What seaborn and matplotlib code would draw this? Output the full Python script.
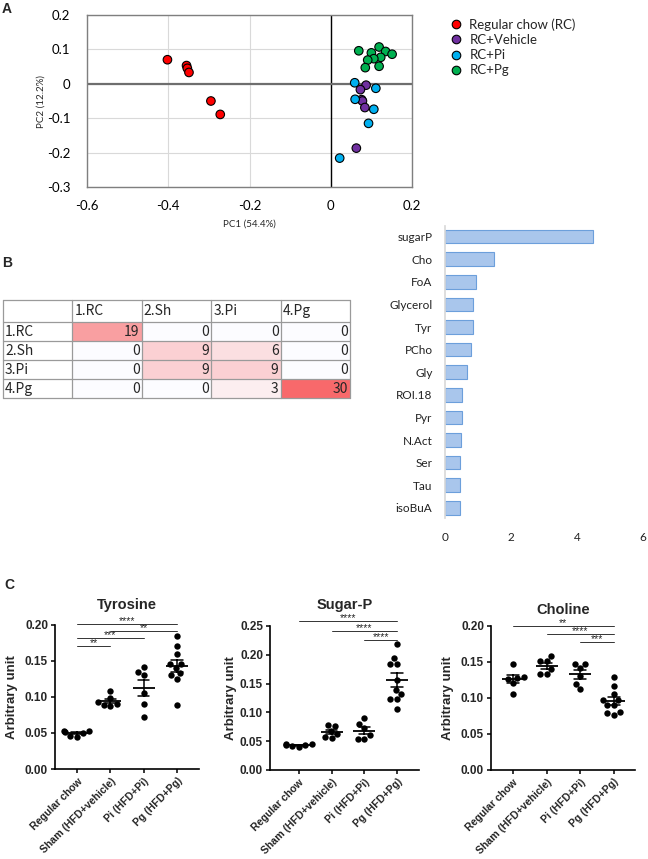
import numpy as np
import pandas as pd
import matplotlib
matplotlib.use('Agg')
import matplotlib.pyplot as plt
import seaborn as sns
from matplotlib.colors import LinearSegmentedColormap

sns.set_theme(style='white')
plt.rcParams['font.family'] = ['Lato', 'DejaVu Sans']

# ---------------- Panel A data (PCA scores) ----------------
pca_groups = ['Regular chow (RC)', 'RC+Vehicle', 'RC+Pi', 'RC+Pg']
pca_colors = ['#FF0000', '#7030A0', '#00B0F0', '#00B050']
rc_pc1 = [-0.402, -0.355, -0.353, -0.349, -0.295, -0.272]
rc_pc2 = [0.070, 0.053, 0.045, 0.033, -0.050, -0.089]
veh_pc1 = [0.087, 0.073, 0.076, 0.078, 0.084, 0.063]
veh_pc2 = [-0.004, -0.017, -0.046, -0.050, -0.069, -0.187]
pi_pc1 = [0.059, 0.111, 0.060, 0.106, 0.093, 0.022]
pi_pc2 = [0.003, -0.013, -0.045, -0.074, -0.115, -0.216]
pg_pc1 = [0.069, 0.100, 0.119, 0.135, 0.151, 0.123, 0.106, 0.091, 0.085, 0.119]
pg_pc2 = [0.096, 0.090, 0.107, 0.094, 0.086, 0.077, 0.073, 0.069, 0.047, 0.051]

# ---------------- Panel B data ----------------
table_labels = ['1.RC', '2.Sh', '3.Pi', '4.Pg']
confusion = [[19, 0, 0, 0],
             [0, 9, 6, 0],
             [0, 9, 9, 0],
             [0, 0, 3, 30]]
metabolites = ['sugarP', 'Cho', 'FoA', 'Glycerol', 'Tyr', 'PCho', 'Gly',
               'ROI.18', 'Pyr', 'N.Act', 'Ser', 'Tau', 'isoBuA']
importance = [4.47, 1.49, 0.94, 0.86, 0.85, 0.80, 0.68, 0.52, 0.52, 0.48, 0.46, 0.45, 0.45]

# ---------------- Panel C data ----------------
groups_c = ['Regular chow', 'Sham (HFD+vehicle)', 'Pi (HFD+Pi)', 'Pg (HFD+Pg)']
tyr_rc = [0.045, 0.052, 0.050, 0.053, 0.046, 0.051]
tyr_sham = [0.108, 0.098, 0.093, 0.089, 0.088, 0.090]
tyr_pi = [0.141, 0.135, 0.130, 0.105, 0.090, 0.072]
tyr_pg = [0.184, 0.171, 0.159, 0.145, 0.145, 0.140, 0.133, 0.130, 0.125, 0.089]
sug_rc = [0.041, 0.046, 0.044, 0.045, 0.040, 0.043]
sug_sham = [0.078, 0.077, 0.068, 0.055, 0.057, 0.062]
sug_pi = [0.091, 0.079, 0.073, 0.054, 0.054, 0.060]
sug_pg = [0.219, 0.194, 0.184, 0.184, 0.157, 0.139, 0.132, 0.123, 0.124, 0.106]
cho_rc = [0.147, 0.128, 0.129, 0.127, 0.121, 0.105]
cho_sham = [0.158, 0.151, 0.151, 0.140, 0.134, 0.134]
cho_pi = [0.141, 0.147, 0.147, 0.131, 0.112, 0.119]
cho_pg = [0.129, 0.117, 0.105, 0.097, 0.097, 0.090, 0.090, 0.080, 0.079, 0.076]
tyr_sig = [(0, 1, 0.171, '**'), (0, 2, 0.181, '***'), (1, 3, 0.191, '**'), (0, 3, 0.201, '****')]
sug_sig = [(0, 3, 0.259, '****'), (1, 3, 0.242, '****'), (2, 3, 0.225, '****')]
cho_sig = [(0, 3, 0.1995, '**'), (1, 3, 0.189, '****'), (2, 3, 0.178, '***')]

W, H = 648, 859
fig = plt.figure(figsize=(W / 100, H / 100), dpi=100)


def rect(l, t, r, b):
    return [l / W, 1 - b / H, (r - l) / W, (b - t) / H]


ARIAL = ['Liberation Sans', 'DejaVu Sans']

# ================= Panel A =================
axA = fig.add_axes(rect(87, 15, 412, 187))
df_pca = pd.DataFrame({
    'PC1': rc_pc1 + veh_pc1 + pi_pc1 + pg_pc1,
    'PC2': rc_pc2 + veh_pc2 + pi_pc2 + pg_pc2,
    'Group': [pca_groups[0]] * len(rc_pc1) + [pca_groups[1]] * len(veh_pc1)
             + [pca_groups[2]] * len(pi_pc1) + [pca_groups[3]] * len(pg_pc1),
})
sns.scatterplot(data=df_pca, x='PC1', y='PC2', hue='Group', hue_order=pca_groups,
                palette=pca_colors, s=38, edgecolor='black', linewidth=0.8,
                ax=axA, zorder=4)
axA.set_xlim(-0.6, 0.2)
axA.set_ylim(-0.3, 0.2)
axA.set_xticks([-0.6, -0.4, -0.2, 0, 0.2])
axA.set_xticklabels(['-0.6', '-0.4', '-0.2', '0', '0.2'])
axA.set_yticks([-0.3, -0.2, -0.1, 0, 0.1, 0.2])
axA.set_yticklabels(['-0.3', '-0.2', '-0.1', '0', '0.1', '0.2'])
axA.grid(True, color='#D9D9D9', lw=0.8)
axA.set_axisbelow(True)
axA.axvline(0, color='black', lw=1.0, zorder=2)
axA.axhline(0, color='#6E6E6E', lw=1.6, zorder=2)
for s in axA.spines.values():
    s.set_color('#7F7F7F')
    s.set_linewidth(1.0)
axA.tick_params(length=0, labelsize=9.5, colors='black')
axA.tick_params(axis='x', pad=9)
axA.tick_params(axis='y', pad=12)
axA.set_xlabel('PC1 (54.4%)', fontsize=7, labelpad=6)
axA.set_ylabel('PC2 (12.2%)', fontsize=7, labelpad=1)
handles, labels = axA.get_legend_handles_labels()
axA.legend(handles, labels, loc='upper left', bbox_to_anchor=(447 / W, 1 - 18 / H),
           bbox_transform=fig.transFigure, frameon=False, fontsize=9.5,
           handletextpad=0.3, labelspacing=0.25, borderpad=0, borderaxespad=0,
           handlelength=1.4)

# ================= Panel B table =================
axT = fig.add_axes(rect(3, 300, 350, 398))
mat = pd.DataFrame(confusion, index=table_labels, columns=table_labels)
cmap = LinearSegmentedColormap.from_list('xl', ['#FCFCFF', '#F8696B'])
sns.heatmap(mat, ax=axT, cmap=cmap, vmin=0, vmax=30, cbar=False,
            xticklabels=False, yticklabels=False, linewidths=0)
hh = 23 / 19.5
axT.set_xlim(-1, 4)
axT.set_ylim(4, -hh)
TF = ['Noto Sans CJK JP', 'DejaVu Sans']
for j, lab in enumerate(table_labels):
    axT.text(j + 0.03, -hh / 2, lab, ha='left', va='center', fontsize=10, family=TF)
for i, lab in enumerate(table_labels):
    axT.text(-1 + 0.03, i + 0.5, lab, ha='left', va='center', fontsize=10, family=TF)
    for j in range(4):
        axT.text(j + 0.97, i + 0.5, str(mat.iloc[i, j]), ha='right', va='center',
                 fontsize=10, family=TF)
for x in [-1, 0, 1, 2, 3, 4]:
    axT.plot([x, x], [-hh, 4], color='#9A9A9A', lw=0.9, clip_on=False)
for y in [-hh, 0, 1, 2, 3, 4]:
    axT.plot([-1, 4], [y, y], color='#9A9A9A', lw=0.9, clip_on=False)
axT.set_xticks([])
axT.set_yticks([])
axT.set_xlabel('')
axT.set_ylabel('')

# ================= Panel B bars =================
axB = fig.add_axes(rect(445, 226.5, 643, 518))
sns.barplot(x=importance, y=metabolites, orient='h', color='#A9C6EC',
            edgecolor='#6C9FDB', linewidth=0.8, width=0.6, saturation=1, ax=axB)
axB.set_xlim(0, 6)
axB.set_ylim(12.45, -0.45)
axB.set_xticks([0, 2, 4, 6])
for k in ['top', 'right', 'bottom']:
    axB.spines[k].set_visible(False)
axB.spines['left'].set_color('#D9D9D9')
axB.tick_params(length=0, labelsize=8.5, colors='#222222')
axB.tick_params(axis='x', pad=10)
axB.tick_params(axis='y', pad=9)

# ================= Panel C =================


def dot_panel(rect_px, data_lists, title, ymax, sigs, xlim, ylab_x, title_pad):
    ax = fig.add_axes(rect(*rect_px))
    vals, grp = [], []
    for g, v in zip(groups_c, data_lists):
        vals += v
        grp += [g] * len(v)
    df = pd.DataFrame({'group': grp, 'value': vals})
    sns.swarmplot(data=df, x='group', y='value', order=groups_c, color='black',
                  size=4.6, ax=ax, zorder=3)
    sns.pointplot(data=df, x='group', y='value', order=groups_c, errorbar='se',
                  color='black', linestyle='none', marker='_', markersize=16,
                  markeredgewidth=1.3, capsize=0.34, err_kws={'linewidth': 1.1},
                  ax=ax, zorder=4)
    ax.set_xlim(*xlim)
    ax.set_ylim(0, ymax)
    ax.set_yticks(np.arange(0, ymax + 1e-9, 0.05))
    ax.set_yticklabels([f'{t:.2f}' for t in np.arange(0, ymax + 1e-9, 0.05)])
    ax.set_xticks(range(4))
    ax.set_xticklabels(groups_c, rotation=45, ha='right', rotation_mode='anchor')
    for lab in ax.get_yticklabels():
        lab.set_fontweight('bold')
        lab.set_family(ARIAL)
        lab.set_fontsize(8.5)
    for lab in ax.get_xticklabels():
        lab.set_fontweight('bold')
        lab.set_family(ARIAL)
        lab.set_fontsize(7.6)
    for k in ['top', 'right']:
        ax.spines[k].set_visible(False)
    for k in ['left', 'bottom']:
        ax.spines[k].set_color('black')
        ax.spines[k].set_linewidth(1.2)
    ax.tick_params(direction='out', length=3, width=1.1, color='black', pad=2,
                   bottom=True, left=True)
    ax.set_xlabel('')
    ax.set_ylabel('Arbitrary unit', fontsize=9.5, fontweight='bold', family=ARIAL)
    ax.yaxis.set_label_coords(ylab_x, 0.5)
    ax.set_title(title, fontsize=10.5, fontweight='bold', family=ARIAL, pad=title_pad)
    for i, j, y, txt in sigs:
        ax.plot([i, j], [y, y], color='#333333', lw=0.7, clip_on=False)
        ax.annotate(txt, xy=((i + j) / 2, y), xytext=(0, -1.5), textcoords='offset points',
                    ha='center', va='bottom', fontsize=7.5, family=ARIAL,
                    annotation_clip=False)
    return ax


dot_panel((55, 624.7, 199, 769), [tyr_rc, tyr_sham, tyr_pi, tyr_pg], 'Tyrosine', 0.20,
          tyr_sig, (-0.66, 3.66), -0.26, 11)
dot_panel((270, 626, 419, 770), [sug_rc, sug_sham, sug_pi, sug_pg], 'Sugar-P', 0.25,
          sug_sig, (-0.88, 3.67), -0.22, 12)
dot_panel((491, 626, 635, 770), [cho_rc, cho_sham, cho_pi, cho_pg], 'Choline', 0.20,
          cho_sig, (-0.65, 3.63), -0.255, 9)

# Panel letters
for letter, (px, py) in {'A': (7, 9), 'B': (7, 263), 'C': (9, 585)}.items():
    fig.text(px / W, 1 - py / H, letter, fontsize=10, fontweight='bold', family=ARIAL,
             ha='center', va='center')

fig.savefig('out.png', dpi=100)
